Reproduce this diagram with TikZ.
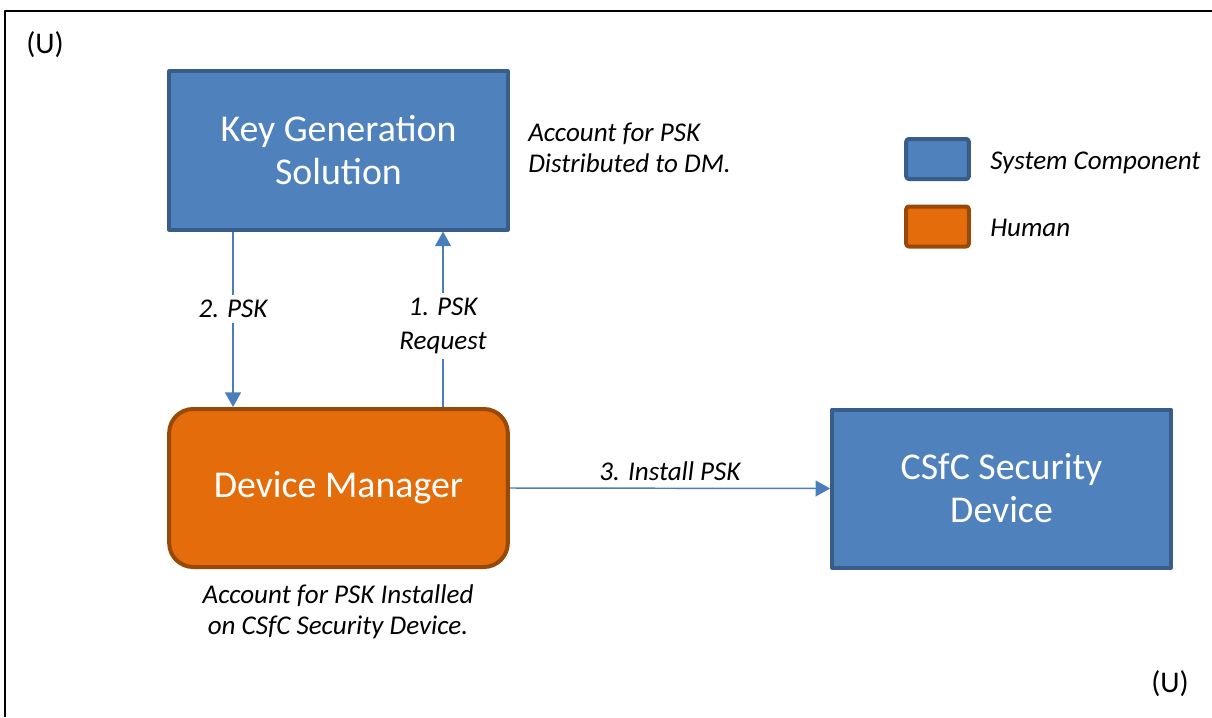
\documentclass[tikz,border=0pt]{standalone}
\usepackage{fontspec}
\setmainfont{Carlito}
\usetikzlibrary{arrows.meta}
\definecolor{sysfill}{rgb}{0.31,0.506,0.741}
\definecolor{sysline}{rgb}{0.22,0.365,0.541}
\definecolor{humfill}{rgb}{0.894,0.424,0.039}
\definecolor{humline}{rgb}{0.596,0.282,0.027}
\definecolor{flowline}{rgb}{0.29,0.494,0.733}

\begin{document}
\begin{tikzpicture}[x=0.75pt,y=-0.75pt,line join=round,
  >={Triangle[length=11pt,width=12pt]},
  sysbox/.style={draw=sysline,fill=sysfill,line width=3pt,minimum width=254pt,minimum height=118.5pt,text=white,align=center,font=\fontsize{28.4}{32.3}\selectfont},
  humbox/.style={sysbox,draw=humline,fill=humfill,rounded corners=18pt},
  keybox/.style={draw=sysline,fill=sysfill,line width=3pt,minimum width=47pt,minimum height=30pt,rounded corners=2pt},
  note/.style={font=\fontsize{20.3}{23.3}\selectfont\itshape},
  flow/.style={draw=flowline,line width=1.1pt,->},
  tag/.style={font=\fontsize{22.5}{26}\selectfont}]
\useasboundingbox (0,0) rectangle (1212,717);
\draw [line width=1.5pt] (1212,11) -- (5,11) -- (5,717);
% boxes
\node [sysbox] (kgs) at (338.5,150.5) {Key Generation\\Solution};
\node [humbox] (dm) at (338.5,488) {Device Manager};
\node [sysbox] (csfc) at (1001.5,488.5) {CSfC Security\\Device};
% legend
\node [keybox] (keysys) at (937.5,159) {};
\node [keybox,draw=humline,fill=humfill] (keyhum) at (937.5,226.5) {};
\node [note,anchor=west,inner sep=0pt] (keysyslbl) at (990,163) {System Component};
\node [note,anchor=west,inner sep=0pt] (keyhumlbl) at (990,228) {Human};
% flows
\draw [flow] ([xshift=-79.1pt]kgs.south) -- node[pos=0.44,fill=white,note,inner sep=4pt] (psk) {2. PSK} ([xshift=-79.1pt]dm.north);
\draw [flow] ([xshift=78.4pt]dm.north) -- node[yshift=-5pt,fill=white,note,font=\fontsize{20.3}{24.8}\selectfont\itshape,align=center,inner sep=4pt] (req) {1. PSK\\Request} ([xshift=78.4pt]kgs.south);
\draw [flow] (dm.east) -- node[above,note,inner sep=5pt] (inst) {3. Install PSK} (csfc.west);
% notes
\node [note,anchor=west,align=left,inner sep=0pt] (acckgs) at (528,147.5) {Account for PSK\\Distributed to DM.};
\node [note,align=center,inner sep=0pt] (accdm) at (338,612) {Account for PSK Installed\\on CSfC Security Device.};
\node [tag] (utop) at (45,45) {(U)};
\node [tag] (ubot) at (1170,684) {(U)};
\end{tikzpicture}
\end{document}
